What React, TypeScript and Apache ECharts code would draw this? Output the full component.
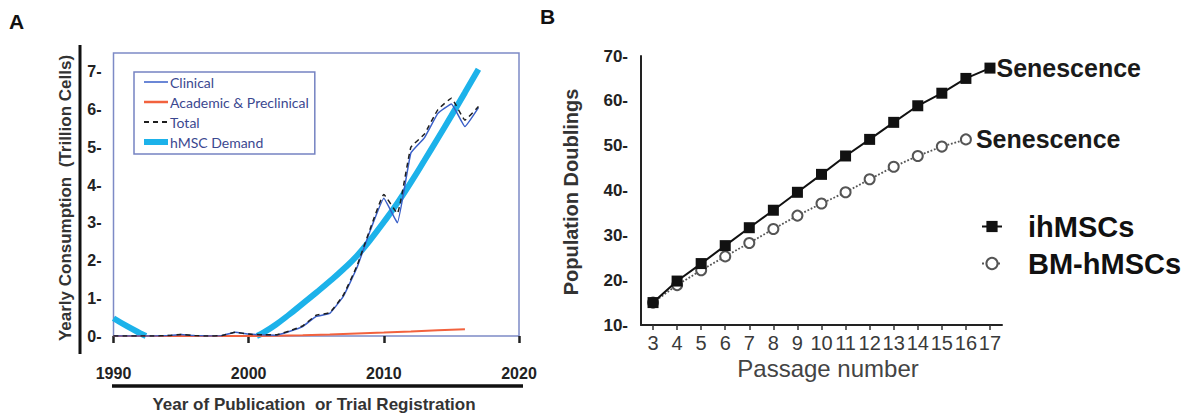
import React, { useEffect, useRef } from 'react';
import * as echarts from 'echarts';

// ---------- Panel A data ----------
const years = [1990, 1991, 1992, 1993, 1994, 1995, 1996, 1997, 1998, 1999, 2000, 2001, 2002, 2003, 2004, 2005, 2006, 2007, 2008, 2009, 2010, 2011, 2012, 2013, 2014, 2015, 2016, 2017];
const clinical = [0, 0, 0, 0, 0.01, 0.04, 0.01, 0, 0.01, 0.1, 0.05, 0.03, 0.02, 0.12, 0.25, 0.52, 0.6, 1.05, 1.8, 2.8, 3.65, 3.0, 4.85, 5.25, 5.9, 6.15, 5.55, 6.05];
const total = [0, 0, 0, 0, 0.01, 0.04, 0.01, 0, 0.01, 0.1, 0.05, 0.03, 0.03, 0.13, 0.27, 0.55, 0.62, 1.08, 1.85, 2.85, 3.75, 3.25, 5.0, 5.35, 6.0, 6.3, 5.72, 6.08];
const academicYears = [1990, 1992, 1994, 1996, 1998, 2000, 2002, 2004, 2006, 2008, 2010, 2012, 2014, 2016];
const academic = [0, 0, 0, 0, 0, 0, 0.005, 0.02, 0.04, 0.065, 0.09, 0.12, 0.155, 0.18];
const demandYears = [1990, 1991, 1992, 1992.4, 1996, 2000.6, 2001, 2002, 2003, 2004, 2005, 2006, 2007, 2008, 2009, 2010, 2011, 2012, 2013, 2014, 2015, 2016, 2017];
const demand = [0.47, 0.26, 0.07, 0, null, 0, 0.07, 0.3, 0.57, 0.86, 1.15, 1.45, 1.77, 2.12, 2.55, 3.02, 3.52, 4.07, 4.65, 5.24, 5.84, 6.45, 7.07];
const legendA = ['Clinical', 'Academic & Preclinical', 'Total', 'hMSC Demand'];

// ---------- Panel B data ----------
const passages = ['3', '4', '5', '6', '7', '8', '9', '10', '11', '12', '13', '14', '15', '16', '17'];
const ihMSCs = [15, 19.8, 23.7, 27.7, 31.7, 35.6, 39.6, 43.6, 47.7, 51.4, 55.2, 58.9, 61.7, 65.0, 67.3];
const bmMSCs = [15, 18.9, 22.2, 25.3, 28.3, 31.4, 34.4, 37.1, 39.6, 42.5, 45.3, 47.7, 49.8, 51.4];
const legendB = ['ihMSCs', 'BM-hMSCs'];
const endLabel = 'Senescence';

const ARIAL = '"Liberation Sans", Arial, Helvetica, sans-serif';

function withEndLabel(values: number[], distance: number) {
  return values.map((v, i) =>
    i === values.length - 1
      ? {
          value: v,
          label: {
            show: true,
            position: 'right',
            distance,
            formatter: endLabel,
            fontFamily: ARIAL,
            fontSize: 25,
            fontWeight: 'bold',
            color: '#1a1a1a',
          },
        }
      : v
  );
}

export default function App() {
  const ref = useRef<HTMLDivElement>(null);

  useEffect(() => {
    if (!ref.current) return;
    const chart = echarts.init(ref.current, undefined, { renderer: 'svg' });

    const hidden = { opacity: 0 };
    const option: any = {
      animation: false,
      backgroundColor: '#ffffff',
      grid: [
        {
          left: 113.5,
          top: 53,
          width: 405.5,
          height: 283,
          show: true,
          borderColor: '#7d8ac6',
          borderWidth: 1.5,
          backgroundColor: 'transparent',
        },
        { left: 641, top: 56, width: 361, height: 269 },
      ],
      xAxis: [
        {
          gridIndex: 0,
          type: 'value',
          min: 1990,
          max: 2020,
          interval: 10,
          offset: 7,
          axisLine: { show: false },
          axisTick: { show: true, length: 7, lineStyle: { color: '#222', width: 2.5 } },
          axisLabel: {
            margin: 22,
            fontFamily: ARIAL,
            fontSize: 16,
            fontWeight: 'bold',
            color: '#222',
            formatter: (v: number) => String(v),
          },
          splitLine: { show: false },
        },
        {
          gridIndex: 1,
          type: 'category',
          data: passages,
          boundaryGap: true,
          axisLine: { show: true, lineStyle: { color: '#222', width: 2 } },
          axisTick: { show: true, alignWithLabel: true, length: 5, lineStyle: { color: '#333', width: 1.5 } },
          axisLabel: { interval: 0, margin: 8, fontFamily: ARIAL, fontSize: 20, color: '#3a3a3a' },
          splitLine: { show: false },
        },
      ],
      yAxis: [
        {
          gridIndex: 0,
          type: 'value',
          min: 0,
          max: 7.5,
          interval: 1,
          axisLine: { show: false },
          axisTick: { show: false },
          axisLabel: {
            margin: 12,
            fontFamily: ARIAL,
            fontSize: 16,
            fontWeight: 'bold',
            color: '#222',
            formatter: (v: number) => (Number.isInteger(v) ? `${v}-` : ''),
          },
          splitLine: { show: false },
        },
        {
          gridIndex: 1,
          type: 'value',
          min: 10,
          max: 70,
          interval: 10,
          axisLine: { show: true, lineStyle: { color: '#222', width: 2 } },
          axisTick: { show: false },
          axisLabel: {
            margin: 13,
            fontFamily: ARIAL,
            fontSize: 17,
            fontWeight: 'bold',
            color: '#222',
            formatter: (v: number) => `${v}-`,
          },
          splitLine: { show: false },
        },
      ],
      legend: [
        {
          data: [
            { name: legendA[0], lineStyle: { width: 1.5 }, itemStyle: hidden },
            { name: legendA[1], lineStyle: { width: 2.5 }, itemStyle: hidden },
            { name: legendA[2], lineStyle: { width: 2 }, itemStyle: hidden },
            { name: legendA[3], lineStyle: { width: 6 }, itemStyle: hidden },
          ],
          orient: 'vertical',
          left: 134,
          top: 72,
          itemWidth: 24,
          itemHeight: 14,
          itemGap: 6,
          padding: [3, 6, 5, 7],
          borderColor: '#7583c2',
          borderWidth: 1.5,
          selectedMode: false,
          textStyle: { fontFamily: 'Lato, "Noto Sans", sans-serif', fontSize: 14, color: '#3b4890', padding: [0, 0, 0, -3] },
        },
        {
          data: legendB,
          orient: 'vertical',
          left: 981,
          top: 210,
          itemWidth: 20,
          itemHeight: 14,
          itemGap: 4,
          padding: 0,
          selectedMode: false,
          textStyle: {
            fontFamily: ARIAL,
            fontSize: 29,
            fontWeight: 'bold',
            color: '#111',
            lineHeight: 33,
            padding: [0, 0, 0, 21],
          },
        },
      ],
      series: [
        {
          name: legendA[3],
          type: 'line',
          xAxisIndex: 0,
          yAxisIndex: 0,
          symbol: 'none',
          smooth: true,
          connectNulls: false,
          z: 2,
          lineStyle: { color: '#1cb2ea', width: 6 },
          itemStyle: { color: '#1cb2ea' },
          data: demandYears.map((y, i) => [y, demand[i] === null ? '-' : demand[i]]),
        },
        {
          name: legendA[1],
          type: 'line',
          xAxisIndex: 0,
          yAxisIndex: 0,
          symbol: 'none',
          z: 3,
          lineStyle: { color: '#f2623e', width: 2 },
          itemStyle: { color: '#f2623e' },
          data: academicYears.map((y, i) => [y, academic[i]]),
        },
        {
          name: legendA[0],
          type: 'line',
          xAxisIndex: 0,
          yAxisIndex: 0,
          symbol: 'none',
          smooth: 0.1,
          z: 4,
          lineStyle: { color: '#3a5fc8', width: 1.5 },
          itemStyle: { color: '#3a5fc8' },
          data: years.map((y, i) => [y, clinical[i]]),
        },
        {
          name: legendA[2],
          type: 'line',
          xAxisIndex: 0,
          yAxisIndex: 0,
          symbol: 'none',
          smooth: 0.1,
          z: 5,
          lineStyle: { color: '#1e1e1e', width: 1.5, type: [5, 4] },
          itemStyle: { color: '#555' },
          data: years.map((y, i) => [y, total[i]]),
        },
        {
          name: legendB[1],
          type: 'line',
          xAxisIndex: 1,
          yAxisIndex: 1,
          symbol: 'emptyCircle',
          symbolSize: 10,
          z: 3,
          lineStyle: { color: '#555', width: 1.8, type: 'dotted' },
          itemStyle: { color: '#555', borderWidth: 1.5 },
          data: withEndLabel(bmMSCs, 4),
        },
        {
          name: legendB[0],
          type: 'line',
          xAxisIndex: 1,
          yAxisIndex: 1,
          symbol: 'rect',
          symbolSize: 11,
          z: 4,
          lineStyle: { color: '#111', width: 2 },
          itemStyle: { color: '#111' },
          data: withEndLabel(ihMSCs, 1),
        },
      ],
      graphic: [
        { type: 'text', left: 9, top: 11, style: { text: 'A', fontFamily: ARIAL, fontSize: 21, fontWeight: 'bold', fill: '#111' } },
        { type: 'text', left: 540, top: 6, style: { text: 'B', fontFamily: ARIAL, fontSize: 21, fontWeight: 'bold', fill: '#111' } },
        { type: 'line', shape: { x1: 80, y1: 45, x2: 80, y2: 354 }, style: { stroke: '#111', lineWidth: 3 } },
        { type: 'line', shape: { x1: 112, y1: 386, x2: 523, y2: 386 }, style: { stroke: '#111', lineWidth: 3.5 } },
        {
          type: 'text',
          x: 65,
          y: 198,
          rotation: Math.PI / 2,
          style: {
            text: 'Yearly Consumption  (Trillion Cells)',
            fontFamily: ARIAL,
            fontSize: 17,
            fontWeight: 'bold',
            fill: '#333',
            align: 'center',
            verticalAlign: 'middle',
          },
        },
        {
          type: 'text',
          x: 314,
          y: 404,
          style: {
            text: 'Year of Publication  or Trial Registration',
            fontFamily: ARIAL,
            fontSize: 17,
            fontWeight: 'bold',
            fill: '#333',
            align: 'center',
            verticalAlign: 'middle',
          },
        },
        {
          type: 'text',
          x: 571,
          y: 192,
          rotation: Math.PI / 2,
          style: {
            text: 'Population Doublings',
            fontFamily: ARIAL,
            fontSize: 20,
            fontWeight: 'bold',
            fill: '#333',
            align: 'center',
            verticalAlign: 'middle',
          },
        },
        {
          type: 'text',
          x: 828,
          y: 368,
          style: {
            text: 'Passage number',
            fontFamily: ARIAL,
            fontSize: 24,
            fill: '#444',
            align: 'center',
            verticalAlign: 'middle',
          },
        },
      ],
    };

    chart.setOption(option);
    return () => chart.dispose();
  }, []);

  return (
    <div
      ref={ref}
      style={{ position: 'fixed', left: 0, top: 0, width: 1193, height: 415, background: '#fff' }}
    />
  );
}
